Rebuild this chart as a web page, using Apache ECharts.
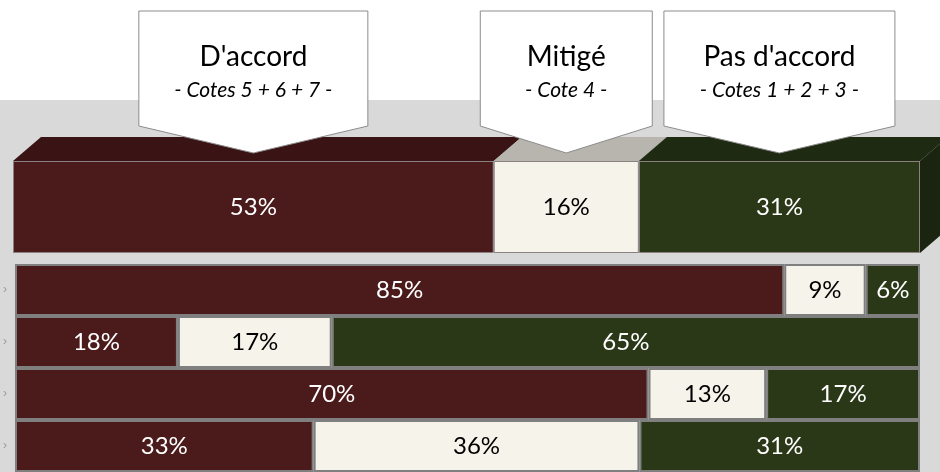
<!DOCTYPE html>
<html>
<head>
<meta charset="utf-8">
<script src="https://cdn.jsdelivr.net/npm/echarts@6/dist/echarts.min.js"></script>
<style>
  html, body { margin: 0; padding: 0; background: #fff; }
  #chart { width: 940px; height: 472px; }
</style>
</head>
<body>
<div id="chart"></div>
<script>
// groupes de réponses
const groups = ["D'accord", 'Mitigé', "Pas d'accord"]
const groupSubtitles = ['- Cotes 5 + 6 + 7 -', '- Cote 4 -', '- Cotes 1 + 2 + 3 -']
const overallCategory = ['Total']
const overall = [53, 16, 31]

// détail par question (libellés coupés dans l'original)
const rowCategories = ['Q1', 'Q2', 'Q3', 'Q4']
const agree = [85, 18, 70, 33]
const mixed = [9, 17, 13, 36]
const disagree = [6, 65, 17, 31]

const colors = ['#4b1a1b', '#f6f3ea', '#2b3818']
const topColors = ['#3a1314', '#b7b5ae', '#1f2a12']
const sideColor = '#1b2410'
const labelColors = ['#ffffff', '#000000', '#ffffff']
const font = 'Lato'
const depthX = 28
const depthY = 24
const calloutWidths = [229, 172, 231]

const chart = echarts.init(document.getElementById('chart'))

// segments cumulés pour la barre globale
const segments = []
let acc = 0
overall.forEach((v, i) => {
	segments.push([acc, acc + v, i])
	acc += v
})

function barSeries(name, data, idx, axis) {
	return {
		name: name,
		type: 'bar',
		stack: 'g' + axis,
		xAxisIndex: axis,
		yAxisIndex: axis,
		data: data,
		barWidth: '100%',
		itemStyle: {
			color: colors[idx],
			borderColor: axis === 0 ? '#8a8080' : '#7f7f7f',
			borderWidth: axis === 0 ? 1 : 2
		},
		label: {
			show: true,
			position: 'inside',
			formatter: '{c}%',
			color: labelColors[idx],
			fontFamily: font,
			fontSize: 24
		},
		z: 3
	}
}

chart.setOption({
	animation: false,
	graphic: [{
		type: 'rect',
		shape: { x: 0, y: 100, width: 940, height: 372 },
		style: { fill: '#d9d9d9' },
		z: -1
	}],
	grid: [
		{ left: 13, right: 20, top: 161, height: 92 },
		{ left: 13, right: 20, top: 264, height: 214 }
	],
	xAxis: [
		{ gridIndex: 0, type: 'value', min: 0, max: 100, show: false },
		{ gridIndex: 1, type: 'value', min: 0, max: 100, show: false }
	],
	yAxis: [
		{ gridIndex: 0, type: 'category', data: overallCategory, show: false },
		{
			gridIndex: 1,
			type: 'category',
			data: rowCategories,
			inverse: true,
			axisLine: { show: false },
			axisTick: { show: false },
			axisLabel: {
				formatter: () => '›',
				color: '#9a9a9a',
				fontSize: 12,
				margin: 8
			}
		}
	],
	series: [
		barSeries(groups[0], [overall[0]], 0, 0),
		barSeries(groups[1], [overall[1]], 1, 0),
		barSeries(groups[2], [overall[2]], 2, 0),
		barSeries(groups[0], agree, 0, 1),
		barSeries(groups[1], mixed, 1, 1),
		barSeries(groups[2], disagree, 2, 1),
		{
			// faces du dessus et côté droit (effet 3D)
			type: 'custom',
			xAxisIndex: 0,
			yAxisIndex: 0,
			data: segments,
			z: 2,
			renderItem: (params, api) => {
				const s = api.value(0)
				const e = api.value(1)
				const i = api.value(2)
				const p1 = api.coord([s, 0])
				const p2 = api.coord([e, 0])
				const bh = api.size([0, 1])[1]
				const top = p1[1] - bh / 2
				const bottom = p1[1] + bh / 2
				const children = [{
					type: 'polygon',
					shape: { points: [[p1[0], top], [p1[0] + depthX, top - depthY], [p2[0] + depthX, top - depthY], [p2[0], top]] },
					style: { fill: topColors[i] }
				}]
				if (i === segments.length - 1) {
					children.push({
						type: 'polygon',
						shape: { points: [[p2[0], top], [p2[0] + depthX, top - depthY], [p2[0] + depthX, bottom - depthY], [p2[0], bottom]] },
						style: { fill: sideColor }
					})
				}
				return { type: 'group', children: children }
			}
		},
		{
			// bulles de légende
			type: 'custom',
			xAxisIndex: 0,
			yAxisIndex: 0,
			data: segments,
			z: 10,
			renderItem: (params, api) => {
				const s = api.value(0)
				const e = api.value(1)
				const i = api.value(2)
				const x = api.coord([(s + e) / 2, 0])[0]
				const w = calloutWidths[i]
				return {
					type: 'group',
					children: [{
						type: 'polygon',
						shape: { points: [[x - w / 2, 11], [x + w / 2, 11], [x + w / 2, 126], [x, 153], [x - w / 2, 126]] },
						style: { fill: '#ffffff', stroke: '#8c8c8c', lineWidth: 1 }
					}, {
						type: 'text',
						style: {
							x: x, y: 57, text: groups[i],
							fill: '#000', font: '28px ' + font,
							align: 'center', verticalAlign: 'middle'
						}
					}, {
						type: 'text',
						style: {
							x: x, y: 90, text: groupSubtitles[i],
							fill: '#000', font: 'italic 21px ' + font,
							align: 'center', verticalAlign: 'middle'
						}
					}]
				}
			}
		}
	]
})
</script>
</body>
</html>
